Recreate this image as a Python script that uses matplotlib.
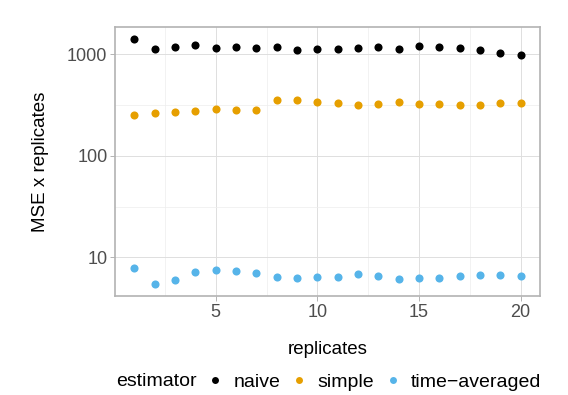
import numpy as np
import matplotlib.pyplot as plt
from matplotlib.lines import Line2D

plt.rcParams["font.family"] = ["Liberation Sans", "DejaVu Sans"]

replicates = list(range(1, 21))
naive = [1409, 1128, 1181, 1236, 1154, 1191, 1154, 1173, 1103, 1138,
         1120, 1165, 1181, 1128, 1200, 1173, 1154, 1113, 1030, 985]
simple = [255, 262, 273, 277, 292, 285, 281, 356, 356, 340,
          335, 318, 322, 337, 327, 325, 315, 318, 330, 330]
time_averaged = [7.91, 5.50, 6.02, 7.23, 7.45, 7.39, 7.06, 6.40, 6.21, 6.40,
                 6.40, 6.85, 6.59, 6.07, 6.26, 6.26, 6.55, 6.64, 6.64, 6.49]
series = ["naive", "simple", "time\u2212averaged"]
colors = ["#000000", "#E69F00", "#56B4E9"]

fig = plt.figure(figsize=(5.68, 3.95), dpi=100)
ax = fig.add_axes([0.2025, 0.2506, 0.7482, 0.681])

for vals, col in zip([naive, simple, time_averaged], colors):
    ax.scatter(replicates, vals, s=34, color=col, linewidths=0, zorder=3)

ax.set_yscale("log")
allv = np.log10(naive + simple + time_averaged)
lo, hi = allv.min(), allv.max()
pad = 0.05 * (hi - lo)
ax.set_ylim(10 ** (lo - pad), 10 ** (hi + pad))
ax.set_xlim(1 - 0.95, 20 + 0.95)

ax.set_yticks([10, 100, 1000])
ax.set_yticklabels(["10", "100", "1000"])
ax.set_yticks([10 ** 1.5, 10 ** 2.5], minor=True)
ax.yaxis.set_minor_formatter(plt.NullFormatter())
ax.set_xticks([5, 10, 15, 20])
ax.set_xticks([2.5, 7.5, 12.5, 17.5], minor=True)

ax.grid(True, which="major", color="#DEDEDE", linewidth=0.7, zorder=0)
ax.grid(True, which="minor", color="#EDEDED", linewidth=0.5, zorder=0)
ax.set_axisbelow(True)

for sp in ax.spines.values():
    sp.set_color("#B3B3B3")
    sp.set_linewidth(1.2)

ax.tick_params(which="major", length=3.5, width=0.7, color="#B3B3B3",
               labelsize=13, labelcolor="#4D4D4D", pad=2)
ax.tick_params(which="minor", length=0)

ax.set_xlabel("replicates", fontsize=13.5, labelpad=15)
ax.set_ylabel("MSE x replicates", fontsize=13.5, labelpad=13)

fig.text(116 / 568, 1 - 382 / 395, "estimator", fontsize=14, va="center", ha="left")
handles = [Line2D([], [], marker="o", linestyle="", markersize=5,
                  markerfacecolor=c, markeredgewidth=0) for c in colors]
fig.legend(handles, series, loc="center left", bbox_to_anchor=(205.5 / 568, 1 - 382 / 395),
           ncol=3, frameon=False, fontsize=14, handlelength=1.0,
           handletextpad=0.43, columnspacing=0.48, borderpad=0, borderaxespad=0)

fig.savefig("out.png", dpi=100)
